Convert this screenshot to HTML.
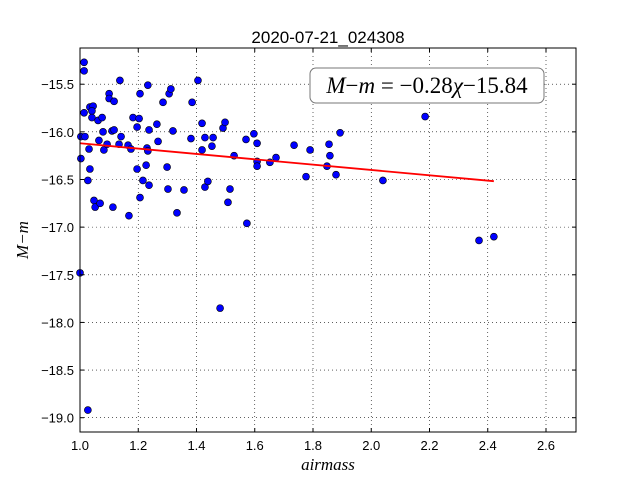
<!DOCTYPE html>
<html><head><meta charset="utf-8"><style>
body{margin:0;background:#fff;width:640px;height:480px;overflow:hidden}
svg{display:block}
text{font-family:"Liberation Sans",sans-serif}
</style></head><body>
<svg id="chart" width="640" height="480" xmlns="http://www.w3.org/2000/svg">
<rect x="0" y="0" width="640" height="480" fill="#fff"/>
<g id="grid"></g>
<g id="marks"></g>
<g id="axes"></g>
<text x="328" y="43" text-anchor="middle" font-size="17">2020-07-21_024308</text>
<text x="328" y="470" text-anchor="middle" font-size="17" font-style="italic" style="font-family:'Liberation Serif',serif">airmass</text>
<text transform="translate(28,240) rotate(-90)" text-anchor="middle" font-size="17" font-style="italic" style="font-family:'Liberation Serif',serif">M−m</text>
<g>
<rect x="310" y="68" width="234" height="35" rx="6" fill="#fff" stroke="#777" stroke-width="1"/>
<text x="427" y="93" text-anchor="middle" font-size="23" style="font-family:'Liberation Serif',serif"><tspan font-style="italic">M</tspan>−<tspan font-style="italic">m</tspan> = −0.28<tspan font-style="italic">χ</tspan>−15.84</text>
</g>
</svg>
<script>
const xs=[1.014,1.014,1.014,1.003,1.017,1.003,1.000,1.027,1.031,1.034,1.027,1.048,1.052,1.069,1.113,1.168,1.034,1.045,1.041,1.041,1.062,1.076,1.079,1.065,1.082,1.093,1.100,1.100,1.117,1.110,1.117,1.134,1.141,1.137,1.182,1.196,1.203,1.165,1.175,1.196,1.206,1.216,1.206,1.227,1.237,1.230,1.233,1.233,1.237,1.264,1.268,1.285,1.306,1.312,1.319,1.299,1.302,1.333,1.357,1.381,1.385,1.405,1.419,1.419,1.429,1.429,1.439,1.453,1.457,1.491,1.498,1.508,1.515,1.529,1.573,1.570,1.597,1.608,1.608,1.608,1.652,1.673,1.735,1.790,1.776,1.848,1.855,1.858,1.879,1.893,2.040,2.185,2.370,2.421,1.481];
const ys=[-15.27,-15.36,-15.80,-16.05,-16.05,-16.28,-17.48,-18.92,-16.18,-16.39,-16.51,-16.72,-16.79,-16.75,-16.79,-16.88,-15.74,-15.73,-15.78,-15.85,-15.88,-15.85,-16.00,-16.09,-16.19,-16.13,-15.60,-15.65,-15.68,-15.99,-15.98,-16.13,-16.05,-15.46,-15.85,-15.95,-15.86,-16.14,-16.18,-16.39,-15.60,-16.51,-16.69,-16.35,-16.56,-16.17,-16.20,-15.51,-15.98,-15.92,-16.10,-15.69,-15.60,-15.55,-15.99,-16.37,-16.60,-16.85,-16.61,-16.07,-15.69,-15.46,-15.91,-16.19,-16.06,-16.58,-16.52,-16.15,-16.06,-15.96,-15.90,-16.74,-16.60,-16.25,-16.96,-16.08,-16.02,-16.12,-16.31,-16.36,-16.32,-16.27,-16.14,-16.19,-16.47,-16.36,-16.13,-16.25,-16.45,-16.01,-16.51,-15.84,-17.14,-17.10,-17.85];
const fitSlope=[-0.28];
const fitIntercept=[-15.84];
const fitRange=[1.0,2.421];
const xTicks=[1.0,1.2,1.4,1.6,1.8,2.0,2.2,2.4,2.6];
const xTickLabels=["1.0","1.2","1.4","1.6","1.8","2.0","2.2","2.4","2.6"];
const yTicks=[-15.5,-16.0,-16.5,-17.0,-17.5,-18.0,-18.5,-19.0];
const yTickLabels=["−15.5","−16.0","−16.5","−17.0","−17.5","−18.0","−18.5","−19.0"];
const L=80,R=576,T=48,B=432,XMIN=1.0,XMAX=2.703,YMIN=-19.15,YMAX=-15.12;
const sx=v=>L+(v-XMIN)/(XMAX-XMIN)*(R-L);
const sy=v=>B-(v-YMIN)/(YMAX-YMIN)*(B-T);
const NS="http://www.w3.org/2000/svg";
function mk(tag,attrs,parent){const e=document.createElementNS(NS,tag);for(const k in attrs)e.setAttribute(k,attrs[k]);parent.appendChild(e);return e;}
const grid=document.getElementById('grid'),marks=document.getElementById('marks'),axes=document.getElementById('axes');
xTicks.forEach((t,i)=>{const x=sx(t);
 const g=mk('line',{x1:x,x2:x,y1:T,y2:B,stroke:'#000','stroke-width':0.6,'stroke-dasharray':'1,3'},grid);
 
 const a=mk('line',{x1:x,x2:x,y1:B,y2:B-4,stroke:'#000'},axes);
 
 const b=mk('line',{x1:x,x2:x,y1:T,y2:T+4,stroke:'#000'},axes);
 
 const tx=mk('text',{x:x,y:B+18,'text-anchor':'middle','font-size':13},axes);tx.textContent=xTickLabels[i];
 
});
yTicks.forEach((t,i)=>{const y=sy(t);
 const g=mk('line',{x1:L,x2:R,y1:y,y2:y,stroke:'#000','stroke-width':0.6,'stroke-dasharray':'1,3'},grid);
 
 const a=mk('line',{x1:L,x2:L+4,y1:y,y2:y,stroke:'#000'},axes);
 
 const b=mk('line',{x1:R,x2:R-4,y1:y,y2:y,stroke:'#000'},axes);
 
 const tx=mk('text',{x:L-6,y:y+5,'text-anchor':'end','font-size':13},axes);tx.textContent=yTickLabels[i];
 
});
xs.forEach((x,i)=>{const c=mk('circle',{cx:sx(x),cy:sy(ys[i]),r:3.5,fill:'#0000ff',stroke:'#000','stroke-width':0.6},marks);
 });
const fl=mk('line',{x1:sx(fitRange[0]),y1:sy(fitSlope[0]*fitRange[0]+fitIntercept[0]),x2:sx(fitRange[1]),y2:sy(fitSlope[0]*fitRange[1]+fitIntercept[0]),stroke:'#ff0000','stroke-width':1.8},marks);

const fr=mk('rect',{x:L,y:T,width:R-L,height:B-T,fill:'none',stroke:'#000','stroke-width':1},axes);

</script>
</body></html>
